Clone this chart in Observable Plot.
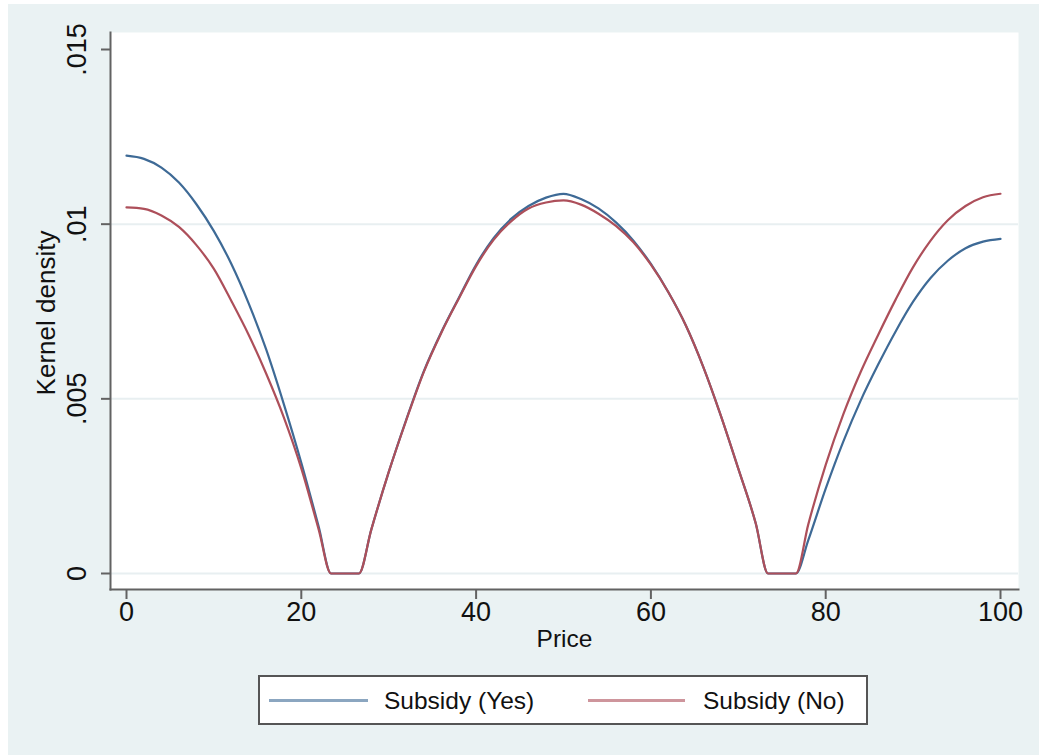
<!DOCTYPE html>
<html><head><meta charset="utf-8">
<script src="https://cdn.jsdelivr.net/npm/d3@7"></script>
<script src="https://cdn.jsdelivr.net/npm/@observablehq/plot@0.6"></script>
<style>
html,body{margin:0;padding:0;background:#fff;}
#wrap{position:absolute;left:8px;top:4px;width:1031px;height:751px;background:#eaf2f3;font-family:"Liberation Sans",Arial,sans-serif;color:#111;overflow:hidden;}
#legend{position:absolute;left:250px;top:671px;width:610px;height:50px;box-sizing:border-box;border:2px solid #555;background:#fff;}
#legend .ln{position:absolute;top:22px;height:3px;}
#legend .tx{position:absolute;top:1px;line-height:46px;font-size:24.5px;white-space:nowrap;}
</style></head><body>
<div id="wrap"><div id="chart"></div><div id="legend"></div></div>
<script>
// ---- data ----
const price = [0,2,4,6,8,10,12,14,16,18,20,22,23.4,26.6,28,30,32,34,36,38,40,42,44,46,48,50,52,54,56,58,60,62,64,66,68,70,72,73.4,76.6,78,80,82,84,86,88,90,92,94,96,98,100];
const densityYes = [0.01196,0.01187,0.01162,0.01119,0.01057,0.00980,0.00886,0.00772,0.00640,0.00485,0.00317,0.00133,0,0,0.00125,0.00290,0.00440,0.00578,0.00690,0.00788,0.00884,0.00960,0.01015,0.01052,0.01076,0.01087,0.01072,0.01045,0.01005,0.00953,0.00886,0.00805,0.00710,0.00591,0.00452,0.00300,0.00143,0,0,0.00095,0.00243,0.00377,0.00495,0.00598,0.00693,0.00778,0.00846,0.00896,0.00931,0.00950,0.00958];
const densityNo  = [0.01048,0.01044,0.01025,0.00992,0.00940,0.00872,0.00780,0.00682,0.00571,0.00447,0.00301,0.00125,0,0,0.00125,0.00290,0.00438,0.00576,0.00688,0.00786,0.00880,0.00955,0.01008,0.01045,0.01062,0.01068,0.01056,0.01030,0.00995,0.00948,0.00884,0.00805,0.00710,0.00591,0.00452,0.00300,0.00143,0,0,0.00140,0.00311,0.00455,0.00577,0.00683,0.00784,0.00877,0.00953,0.01012,0.01052,0.01077,0.01087];
const seriesNames = ["Subsidy (Yes)", "Subsidy (No)"];
const seriesColors = ["#3e6a96", "#ad4f5a"];
const xTicks = [0, 20, 40, 60, 80, 100];
const yTicks = [0, 0.005, 0.01, 0.015];
const yTickLabels = ["0", ".005", ".01", ".015"];
const gridValues = [0, 0.005, 0.01];
const xLabel = "Price";
const yLabel = "Kernel density";

const rows = [];
price.forEach((p, i) => rows.push({price: p, density: densityYes[i], series: seriesNames[0]}));
price.forEach((p, i) => rows.push({price: p, density: densityNo[i], series: seriesNames[1]}));

const W = 1031, H = 656;
const axisColor = "#626262";
const chart = Plot.plot({
  width: W, height: H,
  marginLeft: 102, marginRight: 21, marginTop: 28, marginBottom: H - 585,
  style: {background: "transparent", fontFamily: "'Liberation Sans', Arial, sans-serif", fontSize: "24px", overflow: "visible"},
  x: {domain: [0, 100], range: [118, 992]},
  y: {domain: [0, 0.015], range: [569, 45]},
  color: {domain: seriesNames, range: seriesColors},
  marks: [
    Plot.frame({fill: "white", stroke: null}),
    Plot.ruleY(gridValues, {y: d => d, stroke: "#e8eff1", strokeWidth: 2}),
    Plot.axisX(xTicks, {tickSize: 10, tickFormat: () => "", stroke: axisColor, strokeWidth: 2, label: null}),
    Plot.axisY(yTicks, {tickSize: 9, tickFormat: () => "", stroke: axisColor, strokeWidth: 2, label: null}),
    Plot.text(xTicks, {x: d => d, text: d => String(d), frameAnchor: "bottom", dy: 31, textAnchor: "middle", fill: "#111", fontSize: 27}),
    Plot.text(yTicks, {y: d => d, text: (d, i) => yTickLabels[i], frameAnchor: "left", dx: -33, rotate: -90, textAnchor: "middle", fill: "#111", fontSize: 27}),
    Plot.text([xLabel], {text: d => d, frameAnchor: "bottom", dy: 57, textAnchor: "middle", fill: "#111", fontSize: 24.5}),
    Plot.text([yLabel], {text: d => d, frameAnchor: "left", dx: -64, dy: 2, rotate: -90, textAnchor: "middle", fill: "#111", fontSize: 26}),
    Plot.line(rows, {x: "price", y: "density", z: "series", stroke: "series", strokeWidth: 2.2, curve: "monotone-x"}),
    Plot.frame({anchor: "left", stroke: axisColor, strokeWidth: 2}),
    Plot.frame({anchor: "bottom", stroke: axisColor, strokeWidth: 2})
  ]
});
document.getElementById("chart").appendChild(chart);

// legend (HTML, below the SVG)
const legend = document.getElementById("legend");
const legendPos = [{line: 9, w: 99, text: 124}, {line: 328, w: 97, text: 443}];
seriesNames.forEach((name, i) => {
  const ln = document.createElement("div");
  ln.className = "ln";
  ln.style.left = legendPos[i].line + "px";
  ln.style.width = legendPos[i].w + "px";
  ln.style.background = seriesColors[i];
  ln.style.opacity = 0.6;
  legend.appendChild(ln);
  const tx = document.createElement("div");
  tx.className = "tx";
  tx.style.left = legendPos[i].text + "px";
  tx.textContent = name;
  legend.appendChild(tx);
});
</script>
</body></html>
